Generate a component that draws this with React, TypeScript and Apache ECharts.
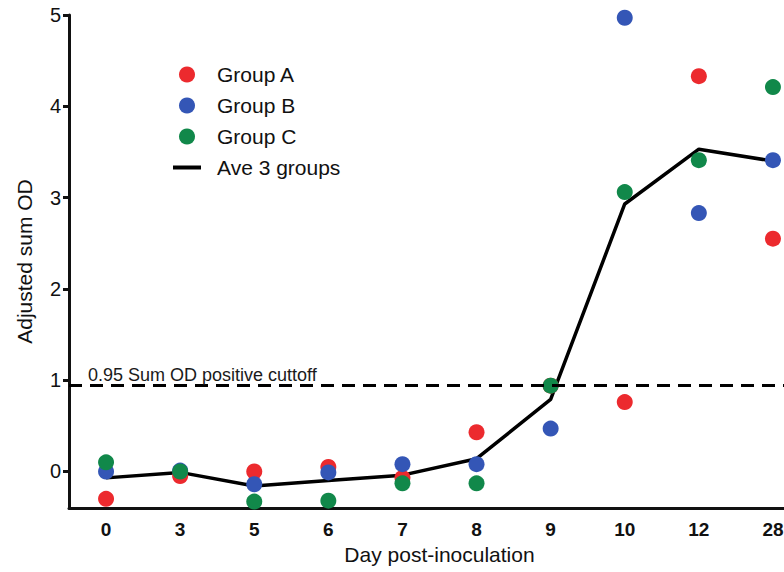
import React, { useEffect, useRef } from "react";
import * as echarts from "echarts";

// Sampling days (categorical, uneven spacing in time)
const days = ["0", "3", "5", "6", "7", "8", "9", "10", "12", "28"];

// Adjusted sum OD per group
const groupA = [-0.3, -0.05, 0.0, 0.05, -0.07, 0.43, 0.94, 0.76, 4.33, 2.55];
const groupB = [0.0, 0.01, -0.14, -0.01, 0.08, 0.08, 0.47, 4.97, 2.83, 3.41];
const groupC = [0.1, 0.0, -0.33, -0.32, -0.13, -0.13, 0.94, 3.06, 3.41, 4.21];

// Mean of the three groups
const average = [-0.07, -0.01, -0.16, -0.1, -0.04, 0.14, 0.79, 2.93, 3.53, 3.4];

const yTicks = [0, 1, 2, 3, 4, 5];
const cutoff = 0.95;
const cutoffLabel = "0.95 Sum OD positive cuttoff";

const FONT = "Liberation Sans, Arial, sans-serif";
const INK = "#111111";

export default function App() {
  const ref = useRef<HTMLDivElement>(null);

  useEffect(() => {
    if (!ref.current) return;
    const chart = echarts.init(ref.current, undefined, { renderer: "svg" });

    const dot = (name: string, data: number[], color: string) => ({
      name,
      type: "scatter",
      data,
      symbol: "circle",
      symbolSize: 16,
      itemStyle: { color, opacity: 1 },
      z: 3,
    });

    chart.setOption({
      animation: false,
      backgroundColor: "#ffffff",
      textStyle: { fontFamily: FONT, color: INK },
      // plot area runs past the right edge of the canvas
      grid: {
        left: 69,
        width: 741,
        top: 15,
        bottom: 64,
        outerBoundsMode: "none",
        containLabel: false,
      },
      legend: {
        data: [
          { name: "Group A", icon: "circle" },
          { name: "Group B", icon: "circle" },
          { name: "Group C", icon: "circle" },
          {
            name: "Ave 3 groups",
            icon: "path://M0 0H28V4H0Z",
            itemStyle: { color: "#000000" },
          },
        ],
        orient: "vertical",
        left: 168,
        top: 59,
        itemWidth: 28,
        itemHeight: 16,
        itemGap: 10,
        symbolKeepAspect: true,
        textStyle: {
          fontFamily: FONT,
          fontSize: 21,
          color: INK,
          padding: [0, 0, 0, 11],
        },
      },
      xAxis: {
        type: "category",
        data: days,
        boundaryGap: true,
        name: "Day post-inoculation",
        nameLocation: "middle",
        nameGap: 36,
        nameTextStyle: { fontFamily: FONT, fontSize: 21, color: INK },
        axisLine: { onZero: false, lineStyle: { color: INK, width: 3 } },
        axisTick: {
          alignWithLabel: true,
          length: 6,
          lineStyle: { color: INK, width: 3 },
        },
        axisLabel: {
          fontFamily: FONT,
          fontSize: 19,
          fontWeight: "bold",
          color: INK,
          margin: 12,
        },
        splitLine: { show: false },
      },
      yAxis: {
        type: "value",
        min: -0.4,
        max: 5,
        name: "Adjusted sum OD",
        nameLocation: "middle",
        nameGap: 34,
        nameTextStyle: { fontFamily: FONT, fontSize: 21, color: INK },
        axisLine: { show: true, onZero: false, lineStyle: { color: INK, width: 3 } },
        axisTick: {
          show: true,
          length: 6,
          customValues: yTicks,
          lineStyle: { color: INK, width: 3 },
        },
        axisLabel: {
          fontFamily: FONT,
          fontSize: 20,
          color: INK,
          margin: 8,
          customValues: yTicks,
        },
        splitLine: { show: false },
      },
      series: [
        {
          name: "Ave 3 groups",
          type: "line",
          data: average,
          showSymbol: false,
          symbol: "none",
          lineStyle: { color: "#000000", width: 3.5 },
          itemStyle: { color: "#000000" },
          z: 2,
          markLine: {
            silent: true,
            symbol: "none",
            data: [{ yAxis: cutoff }],
            lineStyle: { color: "#000000", width: 3.2, type: [13, 8] },
            label: {
              show: true,
              position: "insideStartTop",
              formatter: cutoffLabel,
              fontFamily: FONT,
              fontSize: 18,
              color: "#1a1a1a",
              distance: [19, 1],
            },
          },
        },
        dot("Group A", groupA, "#EC2A2E"),
        dot("Group B", groupB, "#3456B6"),
        dot("Group C", groupC, "#11884A"),
      ],
    });

    return () => chart.dispose();
  }, []);

  return (
    <div
      ref={ref}
      style={{ position: "fixed", left: 0, top: 0, width: 784, height: 572 }}
    />
  );
}
